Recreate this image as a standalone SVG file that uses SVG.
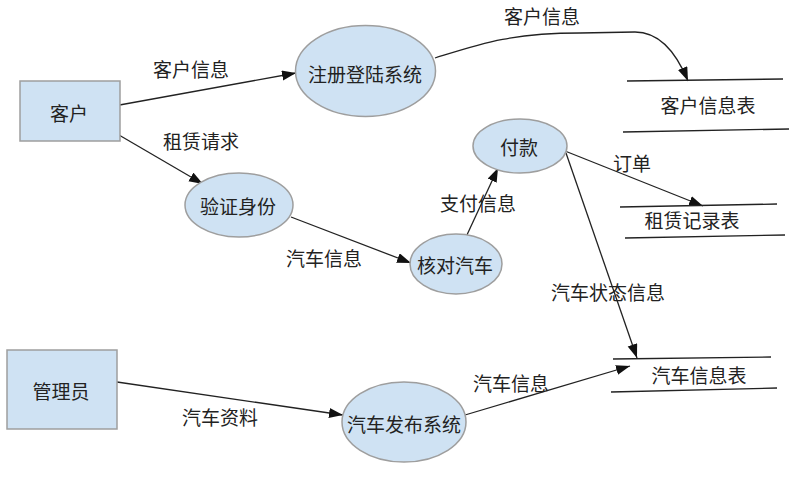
<svg xmlns="http://www.w3.org/2000/svg" width="800" height="478" viewBox="0 0 800 478">
<style>
  .box { fill: #cfe2f3; stroke: #9e9e9e; stroke-width: 1.5; }
  .proc { fill: #cfe2f3; stroke: #9e9e9e; stroke-width: 1.5; }
  .store { stroke: #222; stroke-width: 1.3; fill: none; }
  .edge { stroke: #222; stroke-width: 1.3; fill: none; marker-end: url(#arrow); }
  text { font-family: "Noto Sans CJK SC", "Liberation Sans", sans-serif; font-size: 19px; fill: #222; text-anchor: middle; dominant-baseline: central; }
</style>
<defs>
  <marker id="arrow" markerUnits="userSpaceOnUse" markerWidth="16" markerHeight="12" refX="14" refY="5" orient="auto">
    <path d="M0,0 L14,5 L0,10 Z" fill="#111"/>
  </marker>
</defs>
<rect width="800" height="478" fill="#fff"/>

<g id="connectors">
  <path class="edge" d="M114,106 L296,73"/>
  <text x="191" y="68">客户信息</text>
  <path class="edge" d="M119,135 L203,184"/>
  <text x="201" y="140">租赁请求</text>
  <path class="edge" d="M435,58 C480,44 510,33 580,33 L635,32 C660,32 676,52 688,81"/>
  <text x="542" y="15">客户信息</text>
  <path class="edge" d="M291,217 L411,263"/>
  <text x="324" y="257">汽车信息</text>
  <path class="edge" d="M466,237 L498,168"/>
  <text x="478" y="202">支付信息</text>
  <path class="edge" d="M565,151 L703,206"/>
  <text x="632" y="162">订单</text>
  <path class="edge" d="M566,153 L637,358"/>
  <text x="608" y="291">汽车状态信息</text>
  <path class="edge" d="M465,415 L630,366"/>
  <text x="511" y="382">汽车信息</text>
  <path class="edge" d="M117,382 L343,415"/>
  <text x="220" y="416">汽车资料</text>
</g>

<g id="customer">
  <rect class="box" x="20" y="81" width="100" height="60"/>
  <text x="69" y="112">客户</text>
</g>
<g id="admin">
  <rect class="box" x="7" y="350" width="110" height="79"/>
  <text x="61" y="390">管理员</text>
</g>
<g id="register">
  <ellipse class="proc" cx="365.5" cy="71" rx="70" ry="45.5"/>
  <text x="365" y="73">注册登陆系统</text>
</g>
<g id="verify">
  <ellipse class="proc" cx="239" cy="205" rx="54" ry="32"/>
  <text x="238" y="205">验证身份</text>
</g>
<g id="pay">
  <ellipse class="proc" cx="520" cy="146" rx="47" ry="27"/>
  <text x="519" y="146">付款</text>
</g>
<g id="check">
  <ellipse class="proc" cx="456" cy="264" rx="46" ry="30"/>
  <text x="455" y="264">核对汽车</text>
</g>
<g id="publish">
  <ellipse class="proc" cx="404" cy="422" rx="62" ry="40"/>
  <text x="404" y="423">汽车发布系统</text>
</g>
<g id="store-customer">
  <path class="store" d="M627,81 L783,79 M623,132 L789,129"/>
  <text x="708" y="104">客户信息表</text>
</g>
<g id="store-rental">
  <path class="store" d="M620,207 L777,204 M625,238 L785,235"/>
  <text x="692" y="219">租赁记录表</text>
</g>
<g id="store-car">
  <path class="store" d="M613,359 L771,357 M611,392 L777,388"/>
  <text x="699" y="374">汽车信息表</text>
</g>
</svg>
